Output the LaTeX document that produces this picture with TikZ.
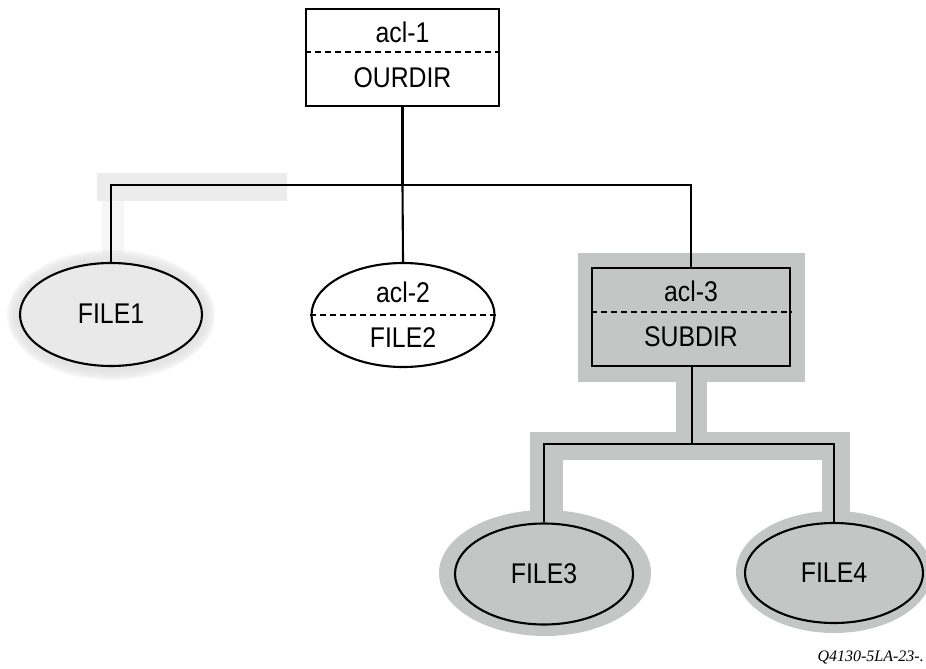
\documentclass[tikz,border=0pt]{standalone}
\usepackage{fontspec}
\setmainfont{Liberation Serif}
\newfontfamily\lab[FakeStretch=0.87]{Liberation Sans}
\usetikzlibrary{shapes.geometric}

\definecolor{subgray}{RGB}{196,198,198}
\definecolor{hazegray}{RGB}{224,224,224}

\tikzset{
  conn/.style={line width=2.1pt},
  lbl/.style={font=\lab\fontsize{28.5}{32}\selectfont, inner sep=0pt},
  dirbox/.style={draw, line width=2.1pt, rectangle, inner sep=0pt},
  fileell/.style={draw, line width=2.1pt, ellipse, inner sep=0pt},
  divider/.style={dash pattern=on 6pt off 4pt, line width=1.6pt},
  caption/.style={font=\itshape\fontsize{16}{18}\selectfont, inner sep=0pt},
}

\begin{document}
\begin{tikzpicture}[x=1pt, y=-1pt]
\useasboundingbox (0,0) rectangle (926,669);

% soft haze behind FILE1 and the left end of the top bus
\foreach \g in {0,...,5} {
  \fill[hazegray, opacity=0.3] (111,315) ellipse ({104-2*\g} and {65-2*\g});
}
\fill[hazegray, opacity=0.6] (97,173) rectangle (287,201);
\fill[hazegray, opacity=0.3] (102,201) rectangle (124,255);

% grey band around the SUBDIR subtree
\fill[subgray] (578,253) rectangle (805,382);
\fill[subgray] (676,380) rectangle (707,434);
\fill[subgray] (530,432) rectangle (850,460);
\fill[subgray] (530,458) rectangle (563,520);
\fill[subgray] (822,458) rectangle (850,520);
\fill[subgray] (545,573) ellipse (106 and 63);
\fill[subgray] (834,572) ellipse (98 and 61);

% root directory
\node[dirbox, minimum width=193pt, minimum height=97pt] (a1) at (402.5,57.5) {};
\draw[divider] ([yshift=5.5pt]a1.west) -- ([yshift=5.5pt]a1.east);
\node[lbl] (a1t) at (402.5,32) {acl-1};
\node[lbl] (a1b) at (402.5,78) {OURDIR};

% children of OURDIR
\node[fileell, fill=hazegray!70, minimum width=182pt, minimum height=103pt] (f1) at (111,314.5) {};
\node[lbl] (f1t) at (111,314) {FILE1};

\node[fileell, fill=white, minimum width=183pt, minimum height=104pt] (a2) at (403,315) {};
\draw[divider] (a2.west) -- (a2.east);
\node[lbl] (a2t) at (403,292) {acl-2};
\node[lbl] (a2b) at (403,338) {FILE2};

\node[dirbox, fill=subgray, minimum width=198pt, minimum height=98pt] (a3) at (691,317) {};
\draw[divider] ([yshift=5pt]a3.west) -- ([yshift=5pt]a3.east);
\node[lbl] (a3t) at (691,291) {acl-3};
\node[lbl] (a3b) at (691,337) {SUBDIR};

% children of SUBDIR
\node[fileell, fill=subgray, minimum width=178pt, minimum height=101pt] (f3) at (544,574) {};
\node[lbl] (f3t) at (544,574) {FILE3};
\node[fileell, fill=subgray, minimum width=178pt, minimum height=100pt] (f4) at (834,573) {};
\node[lbl] (f4t) at (834,573) {FILE4};

% bus junctions
\coordinate (bus) at (402.5,185);
\coordinate (jn) at (692,444);

% connectors
\draw[conn] (a1.south) -- (bus);
\draw[conn] (f1.north) |- (bus) -| (a3.north);
\draw[conn] (bus) -- (a2.north);
\draw[conn] (a3.south -| jn) -- (jn);
\draw[conn] (f3.north) |- (jn) -| (f4.north);

% figure tag
\node[caption, anchor=east] (tag) at (924,657) {Q4130-5LA-23-.};
\end{tikzpicture}
\end{document}
